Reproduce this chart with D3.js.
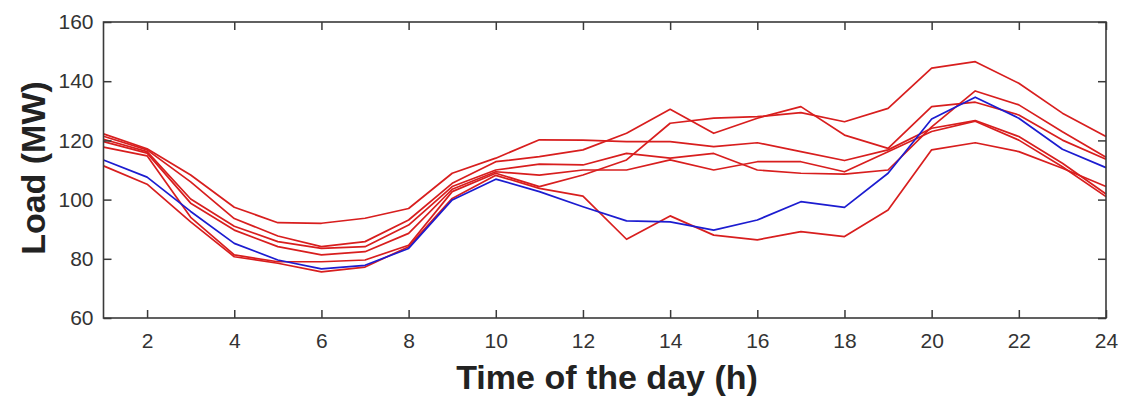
<!DOCTYPE html>
<html>
<head>
<meta charset="utf-8">
<script src="https://cdn.jsdelivr.net/npm/d3@7"></script>
<style>
  html, body { margin: 0; padding: 0; background: #fff; }
  svg { display: block; }
</style>
</head>
<body>
<svg id="chart" width="1121" height="400"></svg>
<script>
// ---------- data ----------
const hours = [1,2,3,4,5,6,7,8,9,10,11,12,13,14,15,16,17,18,19,20,21,22,23,24];
const xTicks = [2,4,6,8,10,12,14,16,18,20,22,24];
const yTicks = [60,80,100,120,140,160];

const red1 = [122.2,117.2,108.3,97.4,92.2,92.0,93.7,97.0,108.9,114.0,120.2,120.1,119.6,119.6,117.9,119.2,116.2,113.2,116.8,124.1,126.7,121.3,112.3,101.9];
const red2 = [121.4,116.8,106.0,93.6,87.7,84.1,85.8,93.1,105.5,112.8,114.5,116.8,122.4,130.5,122.4,127.5,131.4,121.8,117.3,131.4,132.9,128.6,120.1,113.6];
const red3 = [120.4,116.2,100.2,91.0,85.8,83.5,84.1,91.4,104.4,110.0,112.0,111.7,115.6,114.0,115.6,110.0,108.9,108.6,110.0,124.6,136.7,132.0,122.9,114.3];
const red4 = [119.6,115.7,98.8,89.7,84.1,81.3,82.4,88.6,103.5,109.4,108.3,110.0,110.0,113.4,110.0,112.8,112.8,109.4,116.2,123.0,126.5,120.1,111.1,101.0];
const red5 = [117.7,114.8,94.0,81.3,79.0,79.0,79.6,84.6,102.7,108.9,104.4,108.3,113.4,125.8,127.5,128.0,129.4,126.3,130.8,144.4,146.6,139.3,129.2,121.3];
const red6 = [111.4,105.2,92.5,80.7,78.5,75.6,77.2,84.1,100.4,108.2,103.8,101.2,86.6,94.5,88.0,86.4,89.2,87.5,96.5,116.8,119.2,116.2,110.6,104.4];
const blue = [113.4,107.6,96.0,85.2,79.6,76.6,77.8,83.5,99.9,106.9,102.7,97.6,92.8,92.5,89.7,93.1,99.3,97.4,108.9,127.2,134.6,127.5,117.0,110.8];

const redSeries = [red1, red2, red3, red4, red5, red6];

// ---------- layout ----------
const svg = d3.select("#chart");
const PL = 103.5, PR = 1106, PT = 22, PB = 318;
const x = d3.scaleLinear().domain([1, 24]).range([PL, PR]);
const y = d3.scaleLinear().domain([60, 160]).range([PB, PT]);

const axisColor = "#3a3a3a";
const textColor = "#333";
const tickFont = "21px 'Liberation Sans', Arial, sans-serif";

// lines
const line = d3.line().x((d, i) => x(hours[i])).y(d => y(d));
const g = svg.append("g");
redSeries.forEach(s => {
  g.append("path").attr("d", line(s))
    .attr("fill", "none").attr("stroke", "#d81e1e")
    .attr("stroke-width", 1.7).attr("stroke-linejoin", "round");
});
g.append("path").attr("d", line(blue))
  .attr("fill", "none").attr("stroke", "#1c1cd0")
  .attr("stroke-width", 1.7).attr("stroke-linejoin", "round");

// axes (inward ticks, mirrored)
function styleAxis(sel, showText) {
  sel.selectAll("path").attr("stroke", "none");
  sel.selectAll("line").attr("stroke", axisColor).attr("stroke-width", 1.5);
  sel.selectAll("text")
    .style("font", tickFont).attr("fill", textColor)
    .style("display", showText ? null : "none");
}
const axB = svg.append("g").attr("transform", `translate(0,${PB})`)
  .call(d3.axisBottom(x).tickValues(xTicks).tickSizeInner(-8).tickSizeOuter(0).tickPadding(15).tickFormat(d3.format("d")));
styleAxis(axB, true);

const axT = svg.append("g").attr("transform", `translate(0,${PT})`)
  .call(d3.axisTop(x).tickValues(xTicks).tickSizeInner(-8).tickSizeOuter(0));
styleAxis(axT, false);

const axL = svg.append("g").attr("transform", `translate(${PL},0)`)
  .call(d3.axisLeft(y).tickValues(yTicks).tickSizeInner(-8).tickSizeOuter(0).tickPadding(10).tickFormat(d3.format("d")));
styleAxis(axL, true);

const axR = svg.append("g").attr("transform", `translate(${PR},0)`)
  .call(d3.axisRight(y).tickValues(yTicks).tickSizeInner(-8).tickSizeOuter(0));
styleAxis(axR, false);

// frame
svg.append("rect").attr("x", PL).attr("y", PT).attr("width", PR - PL).attr("height", PB - PT)
  .attr("fill", "none").attr("stroke", axisColor).attr("stroke-width", 1.6);

// axis titles
svg.append("text")
  .attr("x", 607).attr("y", 389)
  .attr("text-anchor", "middle")
  .style("font", "bold 34px 'Liberation Sans', Arial, sans-serif")
  .attr("fill", "#222")
  .text("Time of the day (h)");

svg.append("text")
  .attr("transform", `translate(45,${(PT + PB) / 2 - 2}) rotate(-90)`)
  .attr("text-anchor", "middle")
  .style("font", "bold 34px 'Liberation Sans', Arial, sans-serif")
  .attr("fill", "#222")
  .text("Load (MW)");
</script>
</body>
</html>
